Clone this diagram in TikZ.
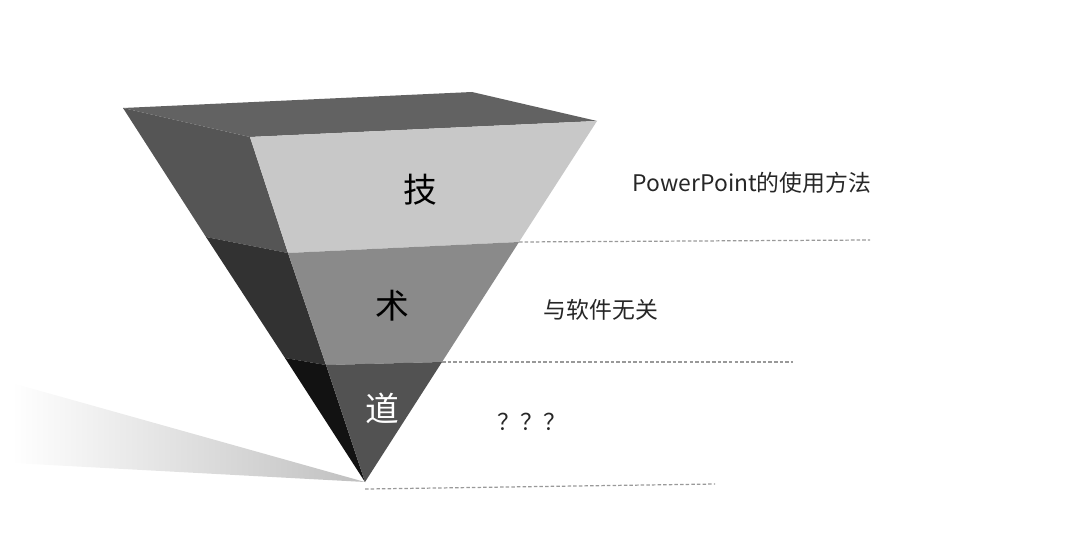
\documentclass[tikz,border=0pt]{standalone}
\usepackage{fontspec}
\newfontfamily\cjk{Noto Sans CJK SC}
\usepackage{tikz}
\usetikzlibrary{positioning}
\usepackage{xcolor}
\definecolor{topface}{RGB}{98,98,98}
\definecolor{jifront}{RGB}{200,200,200}
\definecolor{jiside}{RGB}{85,85,85}
\definecolor{shufront}{RGB}{138,138,138}
\definecolor{shuside}{RGB}{50,50,50}
\definecolor{daofront}{RGB}{82,82,82}
\definecolor{daoside}{RGB}{18,18,18}

\begin{document}
\begin{tikzpicture}[x=0.01cm, y=-0.01cm,
  big/.style={font=\cjk\fontsize{9.6}{10}\selectfont, inner sep=0pt},
  note/.style={font=\cjk\fontsize{6.5}{7}\selectfont, text=black!85, inner sep=0pt},
  guide/.style={dash pattern=on 1pt off 0.6pt, line width=0.35pt, gray!80}]
\useasboundingbox (0,0) rectangle (1080,540);
% corners of the funnel
\coordinate (tl) at (123,108);
\coordinate (tb) at (472,92);
\coordinate (tr) at (597,121);
\coordinate (tf) at (250,137);
\coordinate (apex) at (365,482);
\coordinate (m1l) at (206,237);
\coordinate (m1f) at (288,253);
\coordinate (m1r) at (519,242);
\coordinate (m2l) at (285,358);
\coordinate (m2f) at (326,365);
\coordinate (m2r) at (442,362);
% shadow
\coordinate (s1) at (12,383);
\coordinate (s2) at (12,463);
\shade[left color=white, middle color=black!8, right color=black!25] (s1) -- (apex) -- (s2) -- cycle;
% faces
\fill[topface] (tl) -- (tb) -- (tr) -- (tf) -- cycle;
\fill[jiside] (tl) -- (tf) -- (m1f) -- (m1l) -- cycle;
\fill[shuside] (m1l) -- (m1f) -- (m2f) -- (m2l) -- cycle;
\fill[daoside] (m2l) -- (m2f) -- (apex) -- cycle;
\fill[jifront] (tf) -- (tr) -- (m1r) -- (m1f) -- cycle;
\fill[shufront] (m1f) -- (m1r) -- (m2r) -- (m2f) -- cycle;
\fill[daofront] (m2f) -- (m2r) -- (apex) -- cycle;
% guide lines
\coordinate (d1) at (870,240);
\coordinate (d2) at (793,362);
\coordinate (d3) at (715,484);
\draw[guide] (m1r) -- (d1);
\draw[guide] (m2r) -- (d2);
\draw[guide] ([yshift=-2]apex) -- (d3);
% labels
\node[big] (ji) at (420,190) {技};
\node[big] (shu) at (392,306) {术};
\node[big, text=white] (dao) at (382,408) {道};
\node[note] (jinote) at (752,183) {PowerPoint的使用方法};
\node[note] (shunote) at (601,310) {与软件无关};
\node[note, anchor=west] (daonote) at (497,422) {？？？};
\end{tikzpicture}
\end{document}
